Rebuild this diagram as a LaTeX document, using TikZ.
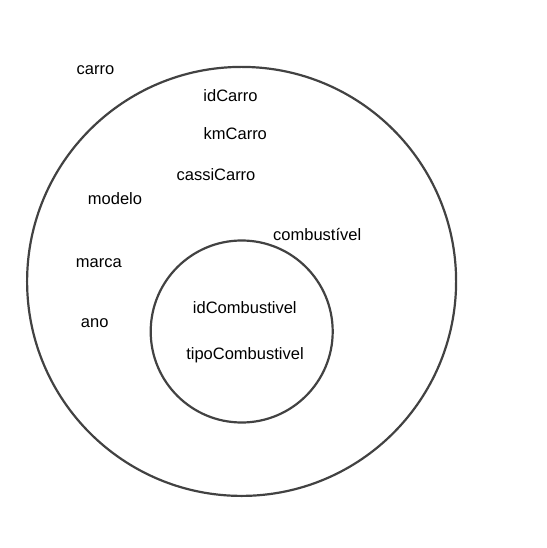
\documentclass[tikz,border=0pt]{standalone}
\usepackage{fontspec}
\setmainfont{Liberation Sans}
\begin{document}
\begin{tikzpicture}[x=1bp,y=-1bp,
  ring/.style={draw=black!74,line width=2.2bp,circle,inner sep=0pt},
  lbl/.style={anchor=base,inner sep=0pt,font=\fontsize{16.5bp}{19bp}\selectfont}]
\useasboundingbox (0,0) rectangle (547,548);
\node[ring,minimum size=429bp] (outer) at (241.6,281.4) {};
\node[ring,minimum size=182bp] (inner) at (241.7,331.5) {};
\begin{scope}[yshift=-0.8bp]
\node[lbl] (carro) at (95.5,73.3) {carro};
\node[lbl] (idCarro) at (230.5,100.7) {idCarro};
\node[lbl] (kmCarro) at (235.3,139) {kmCarro};
\node[lbl] (cassiCarro) at (216,180) {cassiCarro};
\node[lbl] (modelo) at (115,203.3) {modelo};
\node[lbl] (marca) at (98.8,266.7) {marca};
\node[lbl] (ano) at (94.7,326.7) {ano};
\node[lbl] (combustivel) at (317.2,239.3) {combustível};
\node[lbl] (idCombustivel) at (244.8,312.3) {idCombustivel};
\node[lbl] (tipoCombustivel) at (245,358.3) {tipoCombustivel};
\end{scope}
\end{tikzpicture}
\end{document}
